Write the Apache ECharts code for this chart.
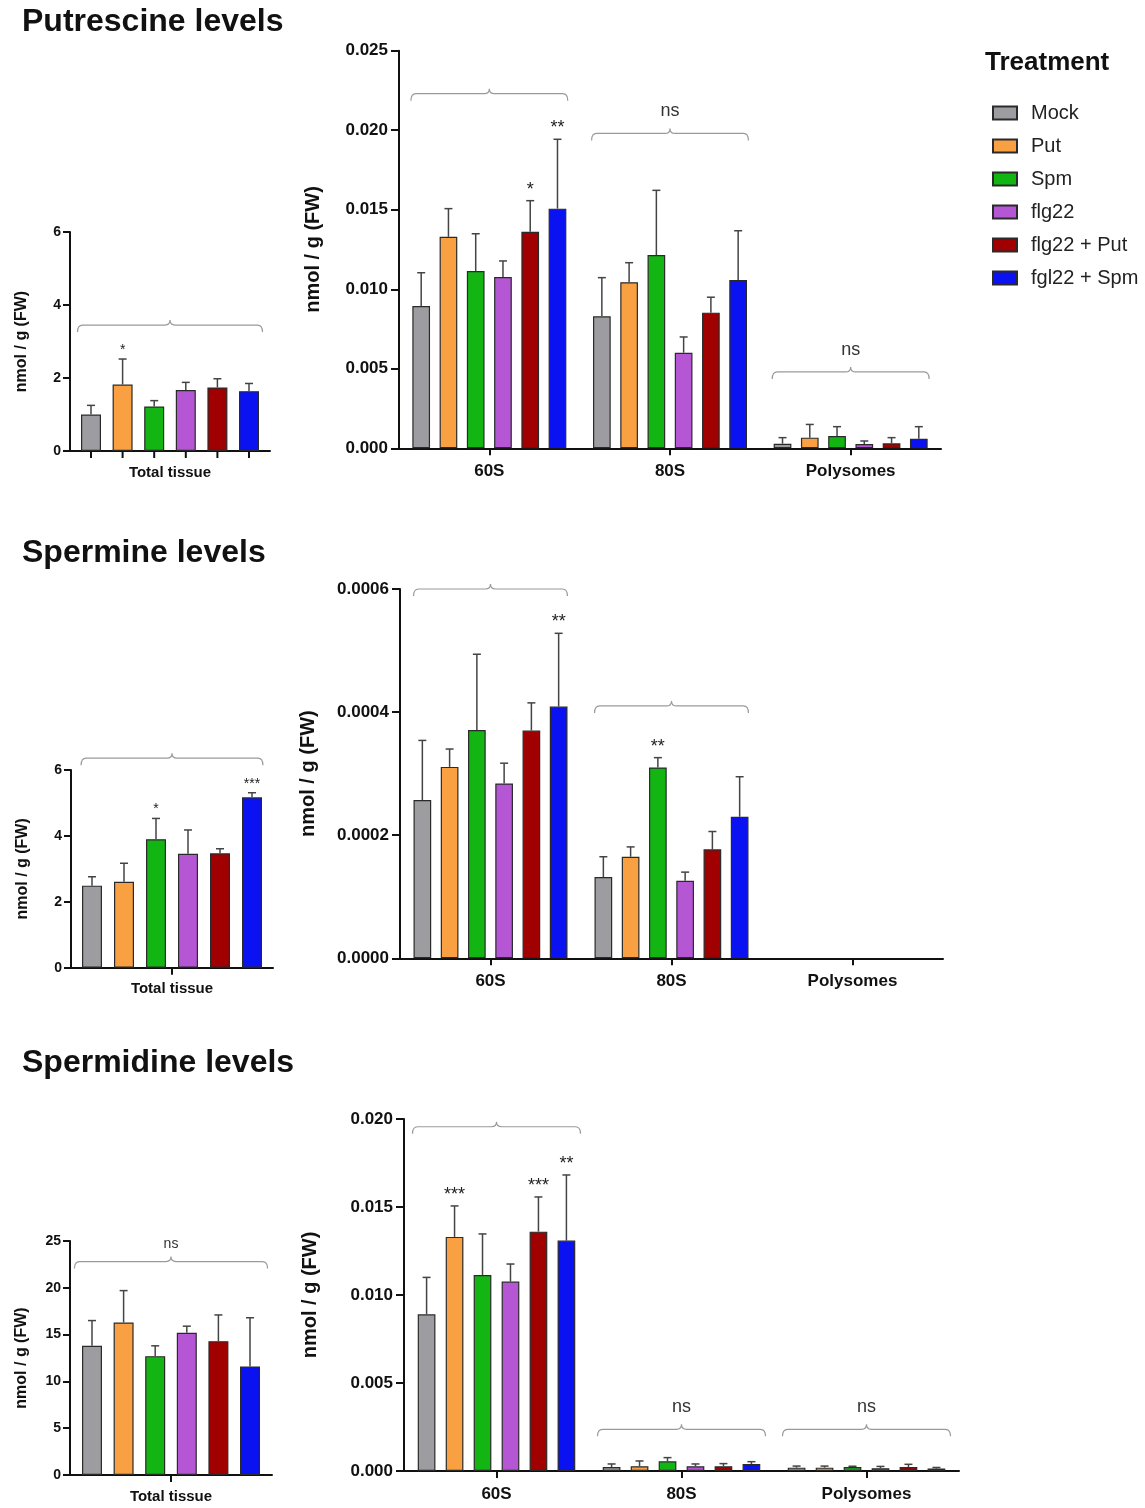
<!DOCTYPE html>
<html><head><meta charset="utf-8">
<script src="https://cdn.jsdelivr.net/npm/echarts@6/dist/echarts.min.js"></script>
<style>html,body{margin:0;padding:0;background:#fff}#c{width:1145px;height:1508px}</style>
</head><body><div id="c"></div>
<script>
// ---------------- DATA ----------------
const treatments = ['Mock', 'Put', 'Spm', 'flg22', 'flg22 + Put', 'fgl22 + Spm'];
const colors = ['#9d9da1', '#f9a043', '#12b512', '#b557d5', '#a00000', '#0a12f2'];
const totalCategory = ['Total tissue'];
const fractionCategories = ['60S', '80S', 'Polysomes'];
const panelTitles = ['Putrescine levels', 'Spermine levels', 'Spermidine levels'];
const yAxisName = 'nmol / g (FW)';
const legendTitle = 'Treatment';

// Putrescine
const putTotalMean = [1.00, 1.82, 1.22, 1.67, 1.74, 1.64];
const putTotalSD   = [0.25, 0.70, 0.16, 0.21, 0.24, 0.21];
// per treatment: [60S, 80S, Polysomes]
const putFracMean = [
  [0.00895, 0.00830, 0.00029],
  [0.01330, 0.01044, 0.00067],
  [0.01115, 0.01215, 0.00077],
  [0.01077, 0.00601, 0.00027],
  [0.01362, 0.00853, 0.00031],
  [0.01507, 0.01058, 0.00060]
];
const putFracSD = [
  [0.00209, 0.00243, 0.00038],
  [0.00177, 0.00123, 0.00083],
  [0.00234, 0.00407, 0.00059],
  [0.00101, 0.00099, 0.00019],
  [0.00195, 0.00097, 0.00036],
  [0.00436, 0.00310, 0.00076]
];

// Spermine
const spmTotalMean = [2.49, 2.61, 3.90, 3.46, 3.47, 5.17];
const spmTotalSD   = [0.27, 0.56, 0.63, 0.72, 0.14, 0.14];
const spmFracMean = [
  [0.000257, 0.000132, null],
  [0.000311, 0.000165, null],
  [0.000371, 0.000310, null],
  [0.000284, 0.000126, null],
  [0.000370, 0.000177, null],
  [0.000409, 0.000230, null]
];
const spmFracSD = [
  [0.000097, 0.000033, null],
  [0.000029, 0.000016, null],
  [0.000123, 0.000016, null],
  [0.000033, 0.000014, null],
  [0.000045, 0.000029, null],
  [0.000119, 0.000065, null]
];

// Spermidine
const spdTotalMean = [13.8, 16.3, 12.7, 15.2, 14.3, 11.6];
const spdTotalSD   = [2.7, 3.4, 1.1, 0.7, 2.8, 5.2];
const spdFracMean = [
  [0.00890, 0.00023, 0.00019],
  [0.01330, 0.00027, 0.00019],
  [0.01114, 0.00055, 0.00023],
  [0.01076, 0.00027, 0.00016],
  [0.01360, 0.00027, 0.00023],
  [0.01309, 0.00040, 0.00014]
];
const spdFracSD = [
  [0.00210, 0.00017, 0.00009],
  [0.00176, 0.00030, 0.00009],
  [0.00233, 0.00021, 0.00004],
  [0.00100, 0.00013, 0.00010],
  [0.00197, 0.00015, 0.00015],
  [0.00373, 0.00013, 0.00006]
];

// significance brackets: [categoryIndex, yValue, label]
const putTotalBrackets = [[0, 3.45, '']];
const putFracBrackets  = [[0, 0.0223, ''], [1, 0.0198, 'ns'], [2, 0.0048, 'ns']];
const spmTotalBrackets = [[0, 6.36, '']];
const spmFracBrackets  = [[0, 0.0006, ''], [1, 0.00041, '']];
const spdTotalBrackets = [[0, 22.8, 'ns']];
const spdFracBrackets  = [[0, 0.01956, ''], [1, 0.00237, 'ns'], [2, 0.00237, 'ns']];

// asterisks: [categoryIndex, treatmentIndex, label]
const putTotalStars = [[0, 1, '*']];
const putFracStars  = [[0, 4, '*'], [0, 5, '**']];
const spmTotalStars = [[0, 2, '*'], [0, 5, '***']];
const spmFracStars  = [[0, 5, '**'], [1, 2, '**']];
const spdTotalStars = [];
const spdFracStars  = [[0, 1, '***'], [0, 4, '***'], [0, 5, '**']];

// ---------------- LAYOUT ----------------
const FONT = 'Arial, "Liberation Sans", Helvetica, sans-serif';
const wrap = a => a.map(v => [v]);
const panels = [
  {grid:{left:70, top:232, width:200, height:219}, cats: totalCategory, mean: wrap(putTotalMean), sd: wrap(putTotalSD), max:6, interval:2, dec:0, big:false, barW:20, gap:0.58, brackets: putTotalBrackets, bHalf:0.4625, stars: putTotalStars, barTicks:true, nameGap:40},
  {grid:{left:399, top:50.7, width:542, height:397.6}, cats: fractionCategories, mean: putFracMean, sd: putFracSD, max:0.025, interval:0.005, dec:3, big:true, barW:17.7, gap:0.54, brackets: putFracBrackets, bHalf:0.434, stars: putFracStars, barTicks:false, nameGap:76},
  {grid:{left:71, top:770, width:202, height:197.7}, cats: totalCategory, mean: wrap(spmTotalMean), sd: wrap(spmTotalSD), max:6, interval:2, dec:0, big:false, barW:20, gap:0.60, brackets: spmTotalBrackets, bHalf:0.45, stars: spmTotalStars, barTicks:false, nameGap:40},
  {grid:{left:400, top:589, width:543, height:369.3}, cats: fractionCategories, mean: spmFracMean, sd: spmFracSD, max:0.0006, interval:0.0002, dec:4, big:true, barW:17.7, gap:0.54, brackets: spmFracBrackets, bHalf:0.425, stars: spmFracStars, barTicks:false, nameGap:82},
  {grid:{left:70, top:1241, width:202, height:234}, cats: totalCategory, mean: wrap(spdTotalMean), sd: wrap(spdTotalSD), max:25, interval:5, dec:0, big:false, barW:20, gap:0.58, brackets: spdTotalBrackets, bHalf:0.478, stars: spdTotalStars, barTicks:false, nameGap:40},
  {grid:{left:404, top:1119, width:555, height:352}, cats: fractionCategories, mean: spdFracMean, sd: spdFracSD, max:0.020, interval:0.005, dec:3, big:true, barW:17.7, gap:0.58, brackets: spdFracBrackets, bHalf:0.454, stars: spdFracStars, barTicks:false, nameGap:84}
];

const grids = [], xAxes = [], yAxes = [], series = [];

panels.forEach((p, g) => {
  grids.push(Object.assign({containLabel:false}, p.grid));
  xAxes.push({
    type:'category', gridIndex:g, data:p.cats, boundaryGap:true,
    axisLine:{show:true, lineStyle:{color:'#111', width:2}},
    axisTick:{show:!p.barTicks, alignWithLabel:true, length:7, lineStyle:{color:'#111', width:2}},
    axisLabel:{fontFamily:FONT, fontWeight:'bold', fontSize:p.big?17:15, color:'#111', margin:p.big?15:14},
    splitLine:{show:false}
  });
  yAxes.push({
    type:'value', gridIndex:g, min:0, max:p.max, interval:p.interval,
    name:yAxisName, nameLocation:'middle', nameRotate:90, nameGap:p.nameGap,
    nameTextStyle:{fontFamily:FONT, fontWeight:'bold', fontSize:p.big?20:16, color:'#111'},
    axisLine:{show:true, lineStyle:{color:'#111', width:2}},
    axisTick:{show:true, length:p.big?8:7, lineStyle:{color:'#111', width:2}},
    axisLabel:{fontFamily:FONT, fontWeight:'bold', fontSize:p.big?17:14, color:'#111', margin:p.big?11:9,
      formatter: v => v.toFixed(p.dec)},
    splitLine:{show:false}
  });

  const spacing = p.barW * (1 + p.gap);

  treatments.forEach((name, t) => {
    series.push({
      type:'bar', name, xAxisIndex:g, yAxisIndex:g,
      data: p.mean[t].map(v => v == null ? '-' : v),
      barWidth:p.barW, barGap:(p.gap*100)+'%',
      itemStyle:{color:colors[t], borderColor:'#2a2a2a', borderWidth:1.2},
      emphasis:{disabled:true}, silent:true, z:2
    });
  });

  // error bars
  const errData = [];
  p.mean.forEach((row, t) => row.forEach((m, c) => {
    if (m != null) errData.push([c, m, m + p.sd[t][c], t]);
  }));
  series.push({
    type:'custom', xAxisIndex:g, yAxisIndex:g, data:errData, clip:false, silent:true, z:3,
    encode:{x:0, y:[1,2]},
    renderItem:(params, api) => {
      const c = api.value(0), m = api.value(1), top = api.value(2), t = api.value(3);
      const b = api.coord([c, m]), tp = api.coord([c, top]);
      const x = b[0] + (t - 2.5) * spacing;
      const st = {stroke:'#444', lineWidth:1.5};
      const ch = [
        {type:'line', shape:{x1:x, y1:b[1], x2:x, y2:tp[1]}, style:st},
        {type:'line', shape:{x1:x-4, y1:tp[1], x2:x+4, y2:tp[1]}, style:st}
      ];
      if (p.barTicks) {
        const z = api.coord([c, 0]);
        ch.push({type:'line', shape:{x1:x, y1:z[1], x2:x, y2:z[1]+7}, style:{stroke:'#111', lineWidth:2}});
      }
      return {type:'group', children:ch};
    }
  });

  // asterisks
  const starData = p.stars.map(s => {
    const c = s[0], t = s[1];
    return [c, p.mean[t][c] + p.sd[t][c], t];
  });
  if (starData.length) series.push({
    type:'custom', xAxisIndex:g, yAxisIndex:g, data:starData, clip:false, silent:true, z:4,
    encode:{x:0, y:1},
    renderItem:(params, api) => {
      const c = api.value(0), top = api.value(1), t = api.value(2);
      const tp = api.coord([c, top]);
      const x = tp[0] + (t - 2.5) * spacing;
      return {type:'text', x:x, y:tp[1] - 2, style:{text:p.stars[params.dataIndex][2], fill:'#222',
        font:(p.big?18:14)+'px '+FONT, align:'center', verticalAlign:'bottom'}};
    }
  });

  // brackets
  series.push({
    type:'custom', xAxisIndex:g, yAxisIndex:g, data:p.brackets.map(b => [b[0], b[1]]), clip:false, silent:true, z:4,
    encode:{x:0, y:1},
    renderItem:(params, api) => {
      const c = api.value(0), yv = api.value(1);
      const pt = api.coord([c, yv]);
      const band = api.size([1, 0])[0];
      const half = band * p.bHalf;
      const cx = pt[0], yl = pt[1], x0 = cx - half, x1 = cx + half;
      const r = 5, drop = 7, rise = 5;
      const d = `M${x0} ${yl+drop} Q${x0} ${yl} ${x0+r} ${yl} L${cx-r} ${yl} Q${cx} ${yl} ${cx} ${yl-rise} Q${cx} ${yl} ${cx+r} ${yl} L${x1-r} ${yl} Q${x1} ${yl} ${x1} ${yl+drop}`;
      const ch = [{type:'path', shape:{pathData:d}, style:{stroke:'#9a9a9a', lineWidth:1.2, fill:null}}];
      const lbl = p.brackets[params.dataIndex][2];
      if (lbl) ch.push({type:'text', x:cx, y:yl - (p.big?13:10), style:{text:lbl, fill:'#333',
        font:(p.big?18:14)+'px '+FONT, align:'center', verticalAlign:'bottom'}});
      return {type:'group', children:ch};
    }
  });
});

const titleTops = [6, 537, 1047];
const titles = panelTitles.map((txt, i) => ({
  text: txt, left: 22, top: titleTops[i], padding: 0,
  textStyle:{fontFamily:FONT, fontWeight:'bold', fontSize:32, color:'#111'}
}));
titles.push({text: legendTitle, left: 985, top: 50, padding: 0,
  textStyle:{fontFamily:FONT, fontWeight:'bold', fontSize:26, color:'#111'}});

const option = {
  animation:false,
  backgroundColor:'#fff',
  title: titles,
  legend:{
    orient:'vertical', left:992, top:103, padding:0,
    itemWidth:24, itemHeight:13, itemGap:13,
    data: treatments.map(n => ({name:n, icon:'rect'})),
    textStyle:{fontFamily:FONT, fontSize:20, color:'#222', padding:[0,0,0,9]},
    selectedMode:false
  },
  grid: grids, xAxis: xAxes, yAxis: yAxes, series
};

const chart = echarts.init(document.getElementById('c'), null, {renderer:'canvas', width:1145, height:1508});
chart.setOption(option);
</script></body></html>
